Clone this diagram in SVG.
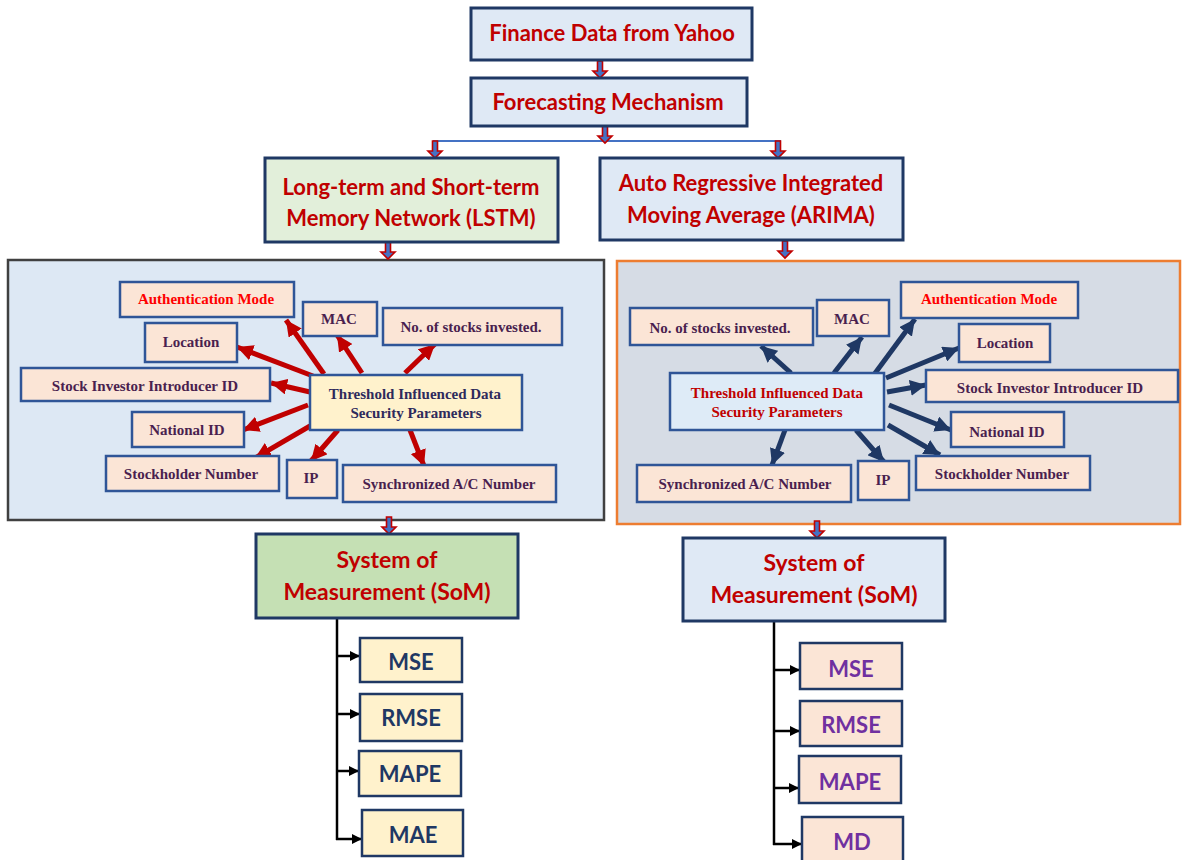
<svg xmlns="http://www.w3.org/2000/svg" width="1182" height="860" viewBox="0 0 1182 860">
<style>
.title{font-family:Lato,"Open Sans","Liberation Sans",sans-serif;font-weight:700;font-size:22px;fill:#c00000;text-anchor:middle}
.title.som{font-size:23px}
.top{fill:#dfe9f5;stroke:#1f3864;stroke-width:3}
.lbl{fill:#fbe5d6;stroke:#2f5597;stroke-width:2.5}
.lt{font-family:"Liberation Serif","Times New Roman",serif;font-weight:700;font-size:15px;fill:#4a1f4f;text-anchor:middle}
.lt.red{fill:#ff0000}
.met{font-family:Lato,"Open Sans","Liberation Sans",sans-serif;font-weight:700;font-size:22px;text-anchor:middle}
.red-ar{stroke:#c00000;stroke-width:5;fill:none;marker-end:url(#mr)}
.nav-ar{stroke:#1f3864;stroke-width:5;fill:none;marker-end:url(#mn)}
.blk{stroke:#000;stroke-width:2.5;fill:none}
.blk-ar{stroke:#000;stroke-width:2.5;fill:none;marker-end:url(#mb)}
.barrow{fill:#4472c4;stroke:#c00000;stroke-width:1.6}
</style>
<defs>
<marker id="mr" viewBox="0 0 10 10" refX="10" refY="5" markerWidth="3.2" markerHeight="3.2" orient="auto"><path d="M0,0 L10,5 L0,10 z" fill="#c00000"/></marker>
<marker id="mn" viewBox="0 0 10 10" refX="10" refY="5" markerWidth="3.2" markerHeight="3.2" orient="auto"><path d="M0,0 L10,5 L0,10 z" fill="#1f3864"/></marker>
<marker id="mb" viewBox="0 0 10 10" refX="10" refY="5" markerWidth="4" markerHeight="4" orient="auto"><path d="M0,0 L10,5 L0,10 z" fill="#000"/></marker>
<path id="ba" class="barrow" d="M-2.5,0 h5 v10 h4.5 l-7,7 l-7,-7 h4.5 z"/>
</defs>

<g id="panel-lstm"><rect x="8" y="260" width="596" height="260" fill="#dde8f4" stroke="#404040" stroke-width="2.5"/></g>
<g id="panel-arima"><rect x="617" y="261" width="563" height="263" fill="#d6dce5" stroke="#ed7d31" stroke-width="2.5"/></g>

<g id="connectors">
<line x1="433" y1="141" x2="781" y2="141" stroke="#4472c4" stroke-width="2"/>
<use href="#ba" x="600" y="61"/>
<use href="#ba" x="605" y="126"/>
<use href="#ba" x="435" y="141"/>
<use href="#ba" x="778" y="141"/>
<use href="#ba" x="388" y="242"/>
<use href="#ba" x="785" y="241"/>
<use href="#ba" x="389" y="517"/>
<use href="#ba" x="817" y="521"/>
<!-- left red -->
<line class="red-ar" x1="324" y1="374" x2="286" y2="320"/>
<line class="red-ar" x1="362" y1="373" x2="337" y2="335"/>
<line class="red-ar" x1="405" y1="373" x2="435" y2="344"/>
<line class="red-ar" x1="313" y1="376" x2="237" y2="347"/>
<line class="red-ar" x1="310" y1="392" x2="271" y2="383"/>
<line class="red-ar" x1="308" y1="405" x2="243" y2="430"/>
<line class="red-ar" x1="310" y1="426" x2="255" y2="458"/>
<line class="red-ar" x1="338" y1="430" x2="311" y2="461"/>
<line class="red-ar" x1="410" y1="430" x2="424" y2="466"/>
<!-- right navy -->
<line class="nav-ar" x1="791" y1="373" x2="761" y2="346"/>
<line class="nav-ar" x1="834" y1="373" x2="862" y2="337"/>
<line class="nav-ar" x1="873" y1="376" x2="915" y2="319"/>
<line class="nav-ar" x1="886" y1="378" x2="959" y2="348"/>
<line class="nav-ar" x1="887" y1="392" x2="926" y2="385"/>
<line class="nav-ar" x1="889" y1="405" x2="951" y2="430"/>
<line class="nav-ar" x1="888" y1="425" x2="940" y2="455"/>
<line class="nav-ar" x1="856" y1="430" x2="884" y2="462"/>
<line class="nav-ar" x1="785" y1="430" x2="772" y2="465"/>
<!-- SoM trees -->
<polyline class="blk" points="337,618 337,840"/>
<line class="blk-ar" x1="336" y1="656" x2="360" y2="656"/>
<line class="blk-ar" x1="336" y1="714" x2="360" y2="714"/>
<line class="blk-ar" x1="336" y1="771" x2="359" y2="771"/>
<line class="blk-ar" x1="336" y1="839" x2="362" y2="839"/>
<polyline class="blk" points="774,621 774,845"/>
<line class="blk-ar" x1="773" y1="670" x2="800" y2="670"/>
<line class="blk-ar" x1="773" y1="731" x2="800" y2="731"/>
<line class="blk-ar" x1="773" y1="788" x2="799" y2="788"/>
<line class="blk-ar" x1="773" y1="844" x2="802" y2="844"/>
</g>

<g id="finance"><rect class="top" x="471" y="8" width="281" height="52"/><text class="title" x="612" y="41">Finance Data from Yahoo</text></g>
<g id="forecasting"><rect class="top" x="471" y="78" width="276" height="48"/><text class="title" x="608" y="110">Forecasting Mechanism</text></g>
<g id="lstm"><rect x="265" y="158" width="293" height="84" fill="#e2efda" stroke="#1f3864" stroke-width="3"/><text class="title" x="411" y="195">Long-term and Short-term</text><text class="title" x="411" y="226">Memory Network (LSTM)</text></g>
<g id="arima"><rect class="top" x="600" y="158" width="303" height="82"/><text class="title" x="751" y="191">Auto Regressive Integrated</text><text class="title" x="751" y="223">Moving Average (ARIMA)</text></g>

<!-- left panel nodes -->
<g id="l-auth"><rect class="lbl" x="120" y="282" width="174" height="35"/><text class="lt red" x="206" y="304">Authentication Mode</text></g>
<g id="l-mac"><rect class="lbl" x="303" y="302" width="74" height="34"/><text class="lt" x="339" y="324">MAC</text></g>
<g id="l-stocks"><rect class="lbl" x="383" y="308" width="179" height="37"/><text class="lt" x="471" y="332">No. of stocks invested.</text></g>
<g id="l-location"><rect class="lbl" x="145" y="323" width="92" height="39"/><text class="lt" x="191" y="347">Location</text></g>
<g id="l-introducer"><rect class="lbl" x="21" y="368" width="249" height="33"/><text class="lt" x="145" y="391">Stock Investor Introducer ID</text></g>
<g id="l-threshold"><rect x="310" y="375" width="212" height="55" fill="#fff2cc" stroke="#2f5597" stroke-width="2.5"/><text class="lt" x="415" y="399" style="fill:#2e2a5c">Threshold  Influenced Data</text><text class="lt" x="416" y="418" style="fill:#2e2a5c">Security Parameters</text></g>
<g id="l-national"><rect class="lbl" x="132" y="412" width="112" height="35"/><text class="lt" x="187" y="435">National ID</text></g>
<g id="l-stockholder"><rect class="lbl" x="106" y="456" width="173" height="35"/><text class="lt" x="191" y="479">Stockholder Number</text></g>
<g id="l-ip"><rect class="lbl" x="287" y="460" width="50" height="38"/><text class="lt" x="311" y="483">IP</text></g>
<g id="l-sync"><rect class="lbl" x="343" y="465" width="213" height="37"/><text class="lt" x="449" y="489">Synchronized A/C Number</text></g>

<!-- right panel nodes -->
<g id="r-stocks"><rect class="lbl" x="630" y="308" width="183" height="37"/><text class="lt" x="720" y="333">No. of stocks invested.</text></g>
<g id="r-mac"><rect class="lbl" x="817" y="300" width="72" height="36"/><text class="lt" x="852" y="324">MAC</text></g>
<g id="r-auth"><rect class="lbl" x="901" y="282" width="177" height="36"/><text class="lt red" x="989" y="304">Authentication Mode</text></g>
<g id="r-location"><rect class="lbl" x="959" y="324" width="91" height="38"/><text class="lt" x="1005" y="348">Location</text></g>
<g id="r-introducer"><rect class="lbl" x="926" y="370" width="252" height="32"/><text class="lt" x="1050" y="393">Stock Investor Introducer ID</text></g>
<g id="r-threshold"><rect x="670" y="373" width="214" height="57" fill="#deebf7" stroke="#2f5597" stroke-width="2.5"/><text class="lt" x="777" y="398" style="fill:#c00000">Threshold  Influenced Data</text><text class="lt" x="777" y="417" style="fill:#c00000">Security Parameters</text></g>
<g id="r-national"><rect class="lbl" x="951" y="412" width="113" height="35"/><text class="lt" x="1007" y="437">National ID</text></g>
<g id="r-stockholder"><rect class="lbl" x="916" y="456" width="174" height="34"/><text class="lt" x="1002" y="479">Stockholder Number</text></g>
<g id="r-sync"><rect class="lbl" x="637" y="465" width="214" height="37"/><text class="lt" x="745" y="489">Synchronized A/C Number</text></g>
<g id="r-ip"><rect class="lbl" x="858" y="461" width="51" height="39"/><text class="lt" x="883" y="485">IP</text></g>

<!-- SoM -->
<g id="som-lstm"><rect x="256" y="534" width="262" height="84" fill="#c5e0b4" stroke="#1f3864" stroke-width="3"/><text class="title som" x="387" y="568">System of</text><text class="title som" x="387" y="600">Measurement (SoM)</text></g>
<g id="som-arima"><rect class="top" x="683" y="538" width="262" height="83"/><text class="title som" x="814" y="571">System of</text><text class="title som" x="814" y="603">Measurement (SoM)</text></g>

<g id="l-mse"><rect x="360" y="638" width="102" height="44" fill="#fff2cc" stroke="#1f3864" stroke-width="2.5"/><text class="met" x="411" y="670" fill="#1f3864">MSE</text></g>
<g id="l-rmse"><rect x="360" y="694" width="102" height="47" fill="#fff2cc" stroke="#1f3864" stroke-width="2.5"/><text class="met" x="411" y="726" fill="#1f3864">RMSE</text></g>
<g id="l-mape"><rect x="359" y="751" width="102" height="45" fill="#fff2cc" stroke="#1f3864" stroke-width="2.5"/><text class="met" x="410" y="782" fill="#1f3864">MAPE</text></g>
<g id="l-mae"><rect x="362" y="810" width="101" height="46" fill="#fff2cc" stroke="#1f3864" stroke-width="2.5"/><text class="met" x="413" y="843" fill="#1f3864">MAE</text></g>

<g id="r-mse"><rect x="800" y="643" width="102" height="46" fill="#fbe5d6" stroke="#1f3864" stroke-width="2.5"/><text class="met" x="851" y="677" fill="#7030a0">MSE</text></g>
<g id="r-rmse"><rect x="800" y="701" width="102" height="45" fill="#fbe5d6" stroke="#1f3864" stroke-width="2.5"/><text class="met" x="851" y="733" fill="#7030a0">RMSE</text></g>
<g id="r-mape"><rect x="799" y="756" width="102" height="47" fill="#fbe5d6" stroke="#1f3864" stroke-width="2.5"/><text class="met" x="850" y="790" fill="#7030a0">MAPE</text></g>
<g id="r-md"><rect x="802" y="817" width="101" height="46" fill="#fbe5d6" stroke="#1f3864" stroke-width="2.5"/><text class="met" x="852" y="850" fill="#7030a0">MD</text></g>
</svg>
